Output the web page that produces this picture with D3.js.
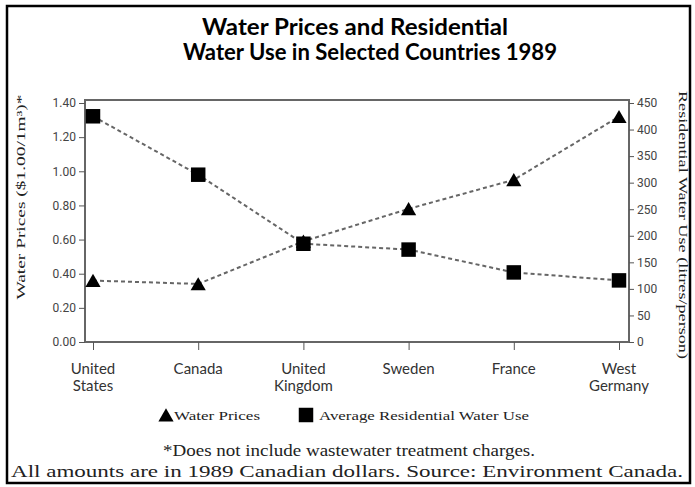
<!DOCTYPE html>
<html lang="en">
<head>
<meta charset="UTF-8" />
<title>Water Prices and Residential Water Use</title>
<script src="https://d3js.org/d3.v7.min.js"></script>
<style>
    body { margin: 0; background: #fff; }
    .axis text { font-family: Roboto, sans-serif; font-size: 12px; fill: #444; }
    .axis line { stroke: #555; }
    .axis .domain { stroke: none; }
    .cat { font-family: Lato, sans-serif; font-size: 15px; fill: #333; }
    .serif { font-family: "Liberation Serif", serif; fill: #222; }
</style>
</head>
<body>
<svg id="chart" width="695" height="487"></svg>
<script>
const countries = [["United", "States"], ["Canada"], ["United", "Kingdom"], ["Sweden"], ["France"], ["West", "Germany"]];
const waterPrices = [0.36, 0.34, 0.59, 0.78, 0.95, 1.32];
const waterUse = [425, 315, 185, 174, 131, 116];
const priceTicks = [0, 0.2, 0.4, 0.6, 0.8, 1.0, 1.2, 1.4];
const useTicks = [0, 50, 100, 150, 200, 250, 300, 350, 400, 450];

{
    const svg = d3.select("svg#chart");
    const margins = { top: 100, left: 85, right: 66, bottom: 145 };
    const chartWidth = 695 - margins.left - margins.right;
    const chartHeight = 487 - margins.top - margins.bottom;

    // outer border
    svg.append("rect")
        .attr("x", 7).attr("y", 6)
        .attr("width", 683).attr("height", 477)
        .attr("fill", "none").attr("stroke", "black").attr("stroke-width", 2.5);

    // title
    svg.append("text")
        .attr("x", 355).attr("y", 35)
        .attr("text-anchor", "middle")
        .attr("textLength", 306).attr("lengthAdjust", "spacingAndGlyphs")
        .style("font-family", "Lato, sans-serif").style("font-weight", "bold").style("font-size", "22px")
        .text("Water Prices and Residential");
    svg.append("text")
        .attr("x", 370).attr("y", 60)
        .attr("text-anchor", "middle")
        .attr("textLength", 374).attr("lengthAdjust", "spacingAndGlyphs")
        .style("font-family", "Lato, sans-serif").style("font-weight", "bold").style("font-size", "22px")
        .text("Water Use in Selected Countries 1989");

    const chartArea = svg.append("g")
        .attr("transform", `translate(${margins.left},${margins.top})`);

    const xScale = d3.scalePoint()
        .domain(countries.map(d => d.join(" ")))
        .range([8, chartWidth - 10]);

    const yPrice = d3.scaleLinear().domain([0, 1.4]).range([chartHeight, 3]);
    const yUse = d3.scaleLinear().domain([0, 450]).range([chartHeight, 3]);

    // frame
    chartArea.append("rect")
        .attr("width", chartWidth).attr("height", chartHeight)
        .attr("fill", "none").attr("stroke", "#666").attr("stroke-width", 2);

    chartArea.append("g")
        .attr("class", "axis")
        .call(d3.axisLeft(yPrice).tickValues(priceTicks).tickFormat(d3.format(".2f")).tickSize(6).tickPadding(3));

    chartArea.append("g")
        .attr("class", "axis")
        .attr("transform", `translate(${chartWidth},0)`)
        .call(d3.axisRight(yUse).tickValues(useTicks).tickSize(5).tickPadding(3));

    chartArea.append("g")
        .attr("class", "axis")
        .attr("transform", `translate(0,${chartHeight})`)
        .call(d3.axisBottom(xScale).tickSize(8).tickFormat(""));

    // category labels
    chartArea.selectAll("text.cat")
        .data(countries)
        .join("text")
        .attr("class", "cat")
        .attr("text-anchor", "middle")
        .attr("transform", d => `translate(${xScale(d.join(" "))},${chartHeight + 32})`)
        .selectAll("tspan")
        .data(d => d)
        .join("tspan")
        .attr("x", 0)
        .attr("dy", (d, i) => i === 0 ? 0 : 17)
        .text(d => d);

    // axis titles
    svg.append("text")
        .attr("class", "serif")
        .attr("transform", "translate(25,197) rotate(-90)")
        .attr("text-anchor", "middle")
        .attr("textLength", 205).attr("lengthAdjust", "spacingAndGlyphs")
        .style("font-size", "13px")
        .text("Water Prices ($1.00/1m³)*");

    svg.append("text")
        .attr("class", "serif")
        .attr("transform", "translate(679,225) rotate(90)")
        .attr("text-anchor", "middle")
        .attr("textLength", 268).attr("lengthAdjust", "spacingAndGlyphs")
        .style("font-size", "13px")
        .text("Residential Water Use (litres/person)");

    const priceData = countries.map((c, i) => ({ c: c.join(" "), v: waterPrices[i] }));
    const useData = countries.map((c, i) => ({ c: c.join(" "), v: waterUse[i] }));

    const priceLine = d3.line().x(d => xScale(d.c)).y(d => yPrice(d.v));
    const useLine = d3.line().x(d => xScale(d.c)).y(d => yUse(d.v));

    chartArea.append("path")
        .datum(priceData)
        .attr("fill", "none").attr("stroke", "#666").attr("stroke-width", 2)
        .style("stroke-dasharray", "4 3")
        .attr("d", priceLine);

    chartArea.append("path")
        .datum(useData)
        .attr("fill", "none").attr("stroke", "#666").attr("stroke-width", 2)
        .style("stroke-dasharray", "4 3")
        .attr("d", useLine);

    const triangle = d3.symbol().type(d3.symbolTriangle).size(100);
    const square = d3.symbol().type(d3.symbolSquare).size(210);

    chartArea.selectAll("path.tri")
        .data(priceData)
        .join("path")
        .attr("class", "tri")
        .attr("transform", d => `translate(${xScale(d.c)},${yPrice(d.v) + 2})`)
        .attr("d", triangle)
        .attr("fill", "black");

    chartArea.selectAll("path.sq")
        .data(useData)
        .join("path")
        .attr("class", "sq")
        .attr("transform", d => `translate(${xScale(d.c)},${yUse(d.v)})`)
        .attr("d", square)
        .attr("fill", "black");

    // legend
    const legend = svg.append("g").attr("transform", "translate(0,415)");
    legend.append("path")
        .attr("transform", "translate(166,2)")
        .attr("d", triangle)
        .attr("fill", "black");
    legend.append("text")
        .attr("class", "serif")
        .attr("x", 174).attr("y", 5)
        .attr("textLength", 86).attr("lengthAdjust", "spacingAndGlyphs")
        .style("font-size", "13px")
        .text("Water Prices");
    legend.append("path")
        .attr("transform", "translate(306,0)")
        .attr("d", square)
        .attr("fill", "black");
    legend.append("text")
        .attr("class", "serif")
        .attr("x", 319).attr("y", 5)
        .attr("textLength", 210).attr("lengthAdjust", "spacingAndGlyphs")
        .style("font-size", "13px")
        .text("Average Residential Water Use");

    // footnotes
    svg.append("text")
        .attr("class", "serif")
        .attr("x", 349).attr("y", 456)
        .attr("text-anchor", "middle")
        .attr("textLength", 372).attr("lengthAdjust", "spacingAndGlyphs")
        .style("font-size", "16px")
        .text("*Does not include wastewater treatment charges.");
    svg.append("text")
        .attr("class", "serif")
        .attr("x", 347).attr("y", 477)
        .attr("text-anchor", "middle")
        .attr("textLength", 672).attr("lengthAdjust", "spacingAndGlyphs")
        .style("font-size", "16px")
        .text("All amounts are in 1989 Canadian dollars. Source: Environment Canada.");
}
</script>
</body>
</html>
